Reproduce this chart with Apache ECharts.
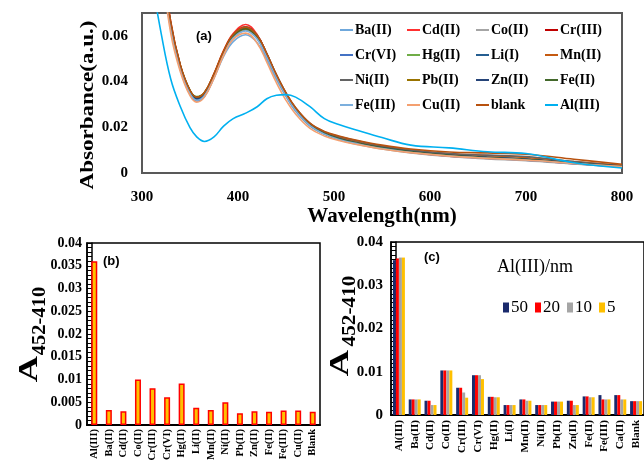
<!DOCTYPE html>
<html>
<head>
<meta charset="utf-8">
<script src="https://cdn.jsdelivr.net/npm/echarts@6/dist/echarts.min.js"></script>
<style>
  html, body { margin: 0; padding: 0; background: #fff; }
  #chart { width: 644px; height: 466px; }
</style>
</head>
<body>
<div id="chart"></div>
<script>
// (a) UV-vis spectra
const wavelengths = [310, 320, 330, 340, 350, 357, 365, 375, 385, 395, 408, 420, 430, 440, 450, 460, 475, 490, 505, 525, 550, 580, 620, 660, 700, 750, 800];
const ba2 = [0.14, 0.094, 0.063, 0.045, 0.0345, 0.0315, 0.0335, 0.0415, 0.051, 0.0575, 0.0605, 0.057, 0.0495, 0.041, 0.0335, 0.027, 0.0205, 0.017, 0.0148, 0.0128, 0.0108, 0.0092, 0.0076, 0.0066, 0.0058, 0.0042, 0.0028];
const cd2 = [0.145, 0.097, 0.066, 0.047, 0.036, 0.033, 0.035, 0.0435, 0.0535, 0.061, 0.065, 0.0605, 0.052, 0.0425, 0.0345, 0.028, 0.021, 0.0172, 0.0148, 0.0128, 0.0108, 0.009, 0.0074, 0.0064, 0.0056, 0.0041, 0.0027];
const co2 = [0.142, 0.095, 0.064, 0.046, 0.0352, 0.0322, 0.0342, 0.0425, 0.0525, 0.0598, 0.0632, 0.0592, 0.0512, 0.042, 0.034, 0.0275, 0.0207, 0.017, 0.0146, 0.0125, 0.0105, 0.0088, 0.0072, 0.0062, 0.0054, 0.004, 0.0026];
const cr3 = [0.144, 0.096, 0.065, 0.0465, 0.0356, 0.0326, 0.0346, 0.043, 0.053, 0.0605, 0.064, 0.06, 0.0518, 0.0424, 0.0343, 0.0278, 0.021, 0.0173, 0.015, 0.0129, 0.0109, 0.0091, 0.0075, 0.0065, 0.0057, 0.0042, 0.0028];
const cr6 = [0.141, 0.094, 0.063, 0.0452, 0.0346, 0.0316, 0.0336, 0.042, 0.052, 0.0592, 0.0625, 0.0588, 0.051, 0.042, 0.034, 0.0276, 0.0209, 0.0172, 0.015, 0.013, 0.011, 0.0093, 0.0077, 0.0067, 0.0059, 0.0043, 0.0029];
const hg2 = [0.143, 0.096, 0.065, 0.047, 0.0362, 0.0334, 0.0352, 0.0432, 0.053, 0.0602, 0.0634, 0.0595, 0.0515, 0.0423, 0.0343, 0.0278, 0.021, 0.0173, 0.015, 0.013, 0.011, 0.0093, 0.0077, 0.0068, 0.006, 0.0044, 0.003];
const li1 = [0.143, 0.095, 0.064, 0.0462, 0.0352, 0.0322, 0.0342, 0.0425, 0.0527, 0.06, 0.0635, 0.0598, 0.0518, 0.0426, 0.0346, 0.028, 0.0212, 0.0175, 0.0152, 0.0132, 0.0112, 0.0095, 0.0079, 0.007, 0.0062, 0.0046, 0.0031];
const mn2 = [0.144, 0.096, 0.065, 0.0468, 0.0358, 0.0328, 0.0348, 0.043, 0.053, 0.0602, 0.0636, 0.06, 0.052, 0.0428, 0.0348, 0.0283, 0.0215, 0.0178, 0.0156, 0.0136, 0.0116, 0.0099, 0.0084, 0.0076, 0.0068, 0.005, 0.0034];
const ni2 = [0.143, 0.096, 0.065, 0.0466, 0.0356, 0.0326, 0.0346, 0.0428, 0.0528, 0.0602, 0.0638, 0.0602, 0.0522, 0.043, 0.035, 0.0285, 0.0217, 0.018, 0.016, 0.014, 0.0118, 0.01, 0.0085, 0.0078, 0.0072, 0.005, 0.003];
const pb2 = [0.142, 0.095, 0.064, 0.0462, 0.0354, 0.0326, 0.0346, 0.0427, 0.0526, 0.0598, 0.0628, 0.0592, 0.0513, 0.0422, 0.0342, 0.0277, 0.0209, 0.0172, 0.015, 0.013, 0.011, 0.0092, 0.0076, 0.0066, 0.0058, 0.0042, 0.0028];
const zn2 = [0.143, 0.096, 0.065, 0.0465, 0.0355, 0.0325, 0.0345, 0.0428, 0.0528, 0.0601, 0.0633, 0.0596, 0.0516, 0.0424, 0.0344, 0.0279, 0.0211, 0.0174, 0.0151, 0.0131, 0.0111, 0.0094, 0.0078, 0.0068, 0.006, 0.0044, 0.003];
const fe2 = [0.142, 0.095, 0.064, 0.0466, 0.036, 0.0332, 0.035, 0.043, 0.0528, 0.06, 0.0632, 0.0594, 0.0514, 0.0423, 0.0343, 0.0278, 0.021, 0.0173, 0.015, 0.013, 0.011, 0.0093, 0.0077, 0.0067, 0.0059, 0.0043, 0.0029];
const fe3 = [0.141, 0.094, 0.063, 0.0455, 0.0348, 0.0318, 0.0338, 0.042, 0.0518, 0.059, 0.0622, 0.0586, 0.0508, 0.0418, 0.0338, 0.0274, 0.0207, 0.017, 0.0147, 0.0127, 0.0107, 0.009, 0.0074, 0.0064, 0.0056, 0.0041, 0.0027];
const cu2 = [0.138, 0.092, 0.061, 0.0442, 0.0338, 0.031, 0.0332, 0.0415, 0.0515, 0.0585, 0.0612, 0.0568, 0.0485, 0.0395, 0.0318, 0.0258, 0.0195, 0.0162, 0.0142, 0.0124, 0.0105, 0.0089, 0.0074, 0.0064, 0.0057, 0.0042, 0.0028];
const blank = [0.145, 0.097, 0.066, 0.0472, 0.0362, 0.0332, 0.0352, 0.0434, 0.0534, 0.0606, 0.0638, 0.0602, 0.0522, 0.043, 0.035, 0.0286, 0.0218, 0.0182, 0.0162, 0.0142, 0.0122, 0.0105, 0.0092, 0.0088, 0.0082, 0.006, 0.0038];
const al3 = [0.085, 0.061, 0.041, 0.029, 0.0198, 0.0158, 0.0138, 0.0158, 0.0205, 0.0238, 0.0262, 0.029, 0.0325, 0.034, 0.0343, 0.0332, 0.029, 0.0238, 0.0212, 0.0186, 0.0155, 0.0122, 0.011, 0.0093, 0.0085, 0.0045, 0.0022];

const lineNames = ['Ba(II)', 'Cd(II)', 'Co(II)', 'Cr(III)', 'Cr(VI)', 'Hg(II)', 'Li(I)', 'Mn(II)',
  'Ni(II)', 'Pb(II)', 'Zn(II)', 'Fe(II)', 'Fe(III)', 'Cu(II)', 'blank', 'Al(III)'];
const lineValues = [ba2, cd2, co2, cr3, cr6, hg2, li1, mn2, ni2, pb2, zn2, fe2, fe3, cu2, blank, al3];
const lineColors = ['#6fa8dc', '#ff3030', '#a5a5a5', '#c00000', '#4472c4', '#70ad47', '#255e91', '#c55a11',
  '#636363', '#997300', '#264478', '#43682b', '#7cafdd', '#f4a070', '#b8520f', '#00b0f0'];

// (b) A452-410 for each ion
const ionsB = ['Al(III)', 'Ba(II)', 'Cd(II)', 'Co(II)', 'Cr(III)', 'Cr(VI)', 'Hg(II)', 'Li(II)',
  'Mn(II)', 'Ni(II)', 'Pb(II)', 'Zn(II)', 'Fe(II)', 'Fe(III)', 'Cu(II)', 'Blank'];
const valuesB = [0.036, 0.0033, 0.003, 0.010, 0.0081, 0.0061, 0.0091, 0.0038, 0.0033, 0.005, 0.0026, 0.003, 0.0029, 0.0032, 0.0032, 0.0029];

// (c) A452-410 at different Al(III) levels
const ionsC = ['Al(III)', 'Ba(II)', 'Cd(II)', 'Co(II)', 'Cr(III)', 'Cr(VI)', 'Hg(II)', 'Li(I)',
  'Mn(II)', 'Ni(II)', 'Pb(II)', 'Zn(II)', 'Fe(II)', 'Fe(III)', 'Ca(II)', 'Blank'];
const levelsC = ['50', '20', '10', '5'];
const c50 = [0.0358, 0.0036, 0.0033, 0.0103, 0.0063, 0.0092, 0.0042, 0.0023, 0.0036, 0.0023, 0.0031, 0.0033, 0.0043, 0.0046, 0.0046, 0.0032];
const c20 = [0.0362, 0.0036, 0.0033, 0.0103, 0.0063, 0.0092, 0.0042, 0.0023, 0.0036, 0.0023, 0.0031, 0.0033, 0.0043, 0.0036, 0.0046, 0.0032];
const c10 = [0.0364, 0.0036, 0.0023, 0.0103, 0.0052, 0.0092, 0.0041, 0.0023, 0.0033, 0.0023, 0.0031, 0.0023, 0.0041, 0.0036, 0.0036, 0.0032];
const c5 = [0.0364, 0.0036, 0.0023, 0.0103, 0.004, 0.0083, 0.0041, 0.0023, 0.0033, 0.0023, 0.0031, 0.0023, 0.0041, 0.0036, 0.0036, 0.0032];
const barColorsC = ['#1a2a6c', '#ff0000', '#a5a5a5', '#ffc000'];

const serif = '"Liberation Serif", "Times New Roman", serif';
const sans = '"Liberation Sans", Arial, sans-serif';

const chart = echarts.init(document.getElementById('chart'));

const fmtB = v => (v === 0 ? '0' : String(parseFloat(v.toFixed(3))));
const fmt2 = v => (v === 0 ? '0' : v.toFixed(2));

// rotated (bottom-to-top) titles, a little stretched like the original figure
function vText(text, x, y, size, stretch) {
  return {
    type: 'text', x: x, y: y, rotation: Math.PI / 2, scaleX: stretch, scaleY: 1,
    style: { text: text, font: 'bold ' + size + 'px ' + serif, fill: '#000', align: 'center', verticalAlign: 'middle' }
  };
}

const lineSeries = lineNames.map((name, i) => ({
  name: name,
  type: 'line',
  xAxisIndex: 0,
  yAxisIndex: 0,
  smooth: 0.4,
  symbol: 'none',
  clip: true,
  lineStyle: { width: 1.6, color: lineColors[i] },
  itemStyle: { color: lineColors[i] },
  data: wavelengths.map((w, k) => [w, lineValues[i][k]]),
  z: name === 'Al(III)' ? 3 : 2
}));

const legendColumns = [
  ['Ba(II)', 'Cr(VI)', 'Ni(II)', 'Fe(III)'],
  ['Cd(II)', 'Hg(II)', 'Pb(II)', 'Cu(II)'],
  ['Co(II)', 'Li(I)', 'Zn(II)', 'blank'],
  ['Cr(III)', 'Mn(II)', 'Fe(II)', 'Al(III)']
];
const legendLeft = [340, 407, 476, 545];

const ladderAxis = (grid, max) => ({
  gridIndex: grid, type: 'value', position: 'left', min: 0, max: max, offset: -5,
  axisLine: { show: true, lineStyle: { color: '#000', width: 1.5 } },
  axisTick: { show: false }, axisLabel: { show: false }, splitLine: { show: false }
});

const option = {
  animation: false,
  backgroundColor: '#fff',
  legend: legendColumns.map((col, i) => ({
    data: col,
    orient: 'vertical',
    left: legendLeft[i],
    top: 23,
    padding: 0,
    itemGap: 11,
    itemWidth: 13,
    itemHeight: 2,
    icon: 'rect',
    selectedMode: false,
    textStyle: { fontFamily: serif, fontWeight: 'bold', fontSize: 14, color: '#000', padding: [0, 0, 0, -3] }
  })).concat([{
    data: levelsC,
    orient: 'horizontal',
    left: 503,
    top: 299,
    padding: 0,
    itemGap: 7,
    itemWidth: 6,
    itemHeight: 10,
    icon: 'rect',
    selectedMode: false,
    textStyle: { fontFamily: serif, fontSize: 17, color: '#000', padding: [0, 0, 0, -3] }
  }]),
  graphic: [
    { type: 'text', left: 196, top: 30, style: { text: '(a)', font: 'bold 13px ' + sans, fill: '#000' } },
    { type: 'text', left: 103, top: 255, style: { text: '(b)', font: 'bold 13px ' + sans, fill: '#000' } },
    { type: 'text', left: 424, top: 251, style: { text: '(c)', font: 'bold 13px ' + sans, fill: '#000' } },
    { type: 'text', left: 497, top: 258, style: { text: 'Al(III)/nm', font: '18px ' + serif, fill: '#000' } },
    vText('Absorbance(a.u.)', 88, 105, 18, 1.28),
    vText('A', 30, 369, 28, 1.3),
    vText('452-410', 40, 321, 19, 1.08),
    vText('A', 341, 363, 28, 1.3),
    vText('452-410', 350, 311, 19, 1.12)
  ],
  grid: [
    { left: 142, top: 13, width: 480, height: 160, show: true, borderColor: '#595959', borderWidth: 2 },
    { left: 87, top: 243, width: 233, height: 182, show: true, borderColor: '#000', borderWidth: 1.5 },
    { left: 391, top: 242, width: 256, height: 173, show: true, borderColor: '#000', borderWidth: 1.5 }
  ],
  xAxis: [
    {
      gridIndex: 0, type: 'value', min: 300, max: 800, interval: 100,
      axisLine: { show: true, lineStyle: { color: '#595959', width: 2 } },
      axisTick: { show: false }, splitLine: { show: false },
      axisLabel: { margin: 17, fontFamily: serif, fontWeight: 'bold', fontSize: 15, color: '#000' },
      name: 'Wavelength(nm)', nameLocation: 'middle', nameGap: 33,
      nameTextStyle: { fontFamily: serif, fontWeight: 'bold', fontSize: 21, color: '#000' }
    },
    {
      gridIndex: 1, type: 'category', data: ionsB,
      axisLine: { lineStyle: { color: '#000', width: 2 } },
      axisTick: { show: false },
      axisLabel: { interval: 0, rotate: 90, margin: 4, fontFamily: serif, fontWeight: 'bold', fontSize: 10.5, color: '#000' }
    },
    {
      gridIndex: 2, type: 'category', data: ionsC,
      axisLine: { lineStyle: { color: '#000', width: 2 } },
      axisTick: { show: false },
      axisLabel: { interval: 0, rotate: 90, margin: 5, fontFamily: serif, fontWeight: 'bold', fontSize: 11, color: '#000' }
    }
  ],
  yAxis: [
    {
      gridIndex: 0, type: 'value', position: 'left', min: 0, max: 0.07, interval: 0.02,
      axisLine: { show: true, lineStyle: { color: '#595959', width: 2 } },
      axisTick: { show: false }, splitLine: { show: false },
      axisLabel: { showMaxLabel: false, margin: 14, fontFamily: serif, fontWeight: 'bold', fontSize: 15, color: '#000', formatter: fmt2 }
    },
    {
      gridIndex: 1, type: 'value', position: 'left', min: 0, max: 0.04, interval: 0.005,
      axisLine: { show: true, lineStyle: { color: '#000', width: 1.5 } },
      axisTick: { show: true, inside: true, length: 5, lineStyle: { color: '#000', width: 1 } },
      minorTick: { show: true, splitNumber: 5, length: 5, lineStyle: { color: '#000', width: 1 } },
      splitLine: { show: false },
      axisLabel: { margin: 5, fontFamily: serif, fontWeight: 'bold', fontSize: 14, color: '#000', formatter: fmtB }
    },
    {
      gridIndex: 2, type: 'value', position: 'left', min: 0, max: 0.04, interval: 0.01,
      axisLine: { show: true, lineStyle: { color: '#000', width: 1.5 } },
      axisTick: { show: true, inside: true, length: 5, lineStyle: { color: '#000', width: 1 } },
      minorTick: { show: true, splitNumber: 10, length: 5, lineStyle: { color: '#000', width: 1 } },
      splitLine: { show: false },
      axisLabel: { margin: 8, fontFamily: serif, fontWeight: 'bold', fontSize: 15, color: '#000', formatter: fmt2 }
    },
    // inner rails of the ladder-style axes
    ladderAxis(1, 0.04),
    ladderAxis(2, 0.04)
  ],
  series: lineSeries.concat([
    {
      name: 'A452-410',
      type: 'bar',
      xAxisIndex: 1,
      yAxisIndex: 1,
      barWidth: 6,
      itemStyle: { color: '#ffc000', borderColor: '#ff0000', borderWidth: 1.5 },
      data: valuesB
    }
  ]).concat([c50, c20, c10, c5].map((vals, i) => ({
    name: levelsC[i],
    type: 'bar',
    xAxisIndex: 2,
    yAxisIndex: 2,
    barWidth: 3,
    barGap: '0%',
    itemStyle: { color: barColorsC[i] },
    data: vals
  })))
};

chart.setOption(option);
</script>
</body>
</html>
